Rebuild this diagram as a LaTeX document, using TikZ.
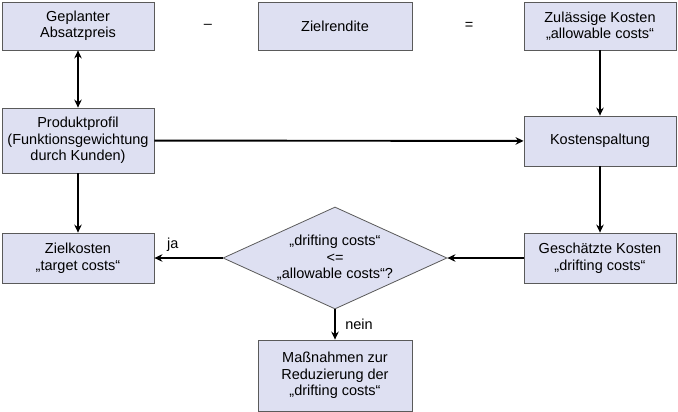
\documentclass[tikz,border=0pt]{standalone}
\usepackage{fontspec}
\setmainfont{Liberation Sans}
\usetikzlibrary{shapes.geometric,arrows.meta}
\definecolor{boxfill}{RGB}{222,224,242}
\definecolor{boxline}{RGB}{90,90,90}
\begin{document}
\begin{tikzpicture}[x=1pt,y=-1pt,
  font=\fontsize{14.5}{16.5}\selectfont,
  kasten/.style={draw=boxline, fill=boxfill, line width=0.8pt, align=center,
    minimum width=152pt, inner sep=0pt},
  raute/.style={diamond, draw=boxline, fill=boxfill, line width=0.8pt, align=center,
    aspect=2.2, inner sep=0pt, minimum width=224pt, minimum height=102pt},
  pfeil/.style={line width=1.9pt, -{Stealth[length=8pt,width=7.5pt]}}]
\useasboundingbox (0,0) rectangle (678,412);

% obere Zeile
\node[kasten, minimum height=48pt] (preis) at (78,26) {Geplanter\\Absatzpreis};
\node[kasten, minimum height=48pt, minimum width=154pt] (rendite) at (335,26) {Zielrendite};
\node[kasten, minimum height=48pt] (allow) at (600,26) {Zulässige Kosten\\„allowable costs“};
\node (minus) at (208,26) {–};
\node (gleich) at (469,26) {=};

% mittlere Zeile
\node[kasten, minimum height=65pt] (profil) at (78,140.5) {Produktprofil\\(Funktionsgewichtung\\durch Kunden)};
\node[kasten, minimum height=50pt] (spalt) at (600,141) {Kostenspaltung};

% untere Zeile
\node[kasten, minimum height=50pt] (ziel) at (78,258) {Zielkosten\\„target costs“};
\node[raute] (frage) at (335,258) {„drifting costs“\\<=\\„allowable costs“?};
\node[kasten, minimum height=50pt] (schaetz) at (600,258) {Geschätzte Kosten\\„drifting costs“};
\node[kasten, minimum height=71pt, minimum width=154pt] (mass) at (335,375.5) {Maßnahmen zur\\Reduzierung der\\„drifting costs“};

% Pfeile
\draw[pfeil, {Stealth[length=8pt,width=7.5pt]}-{Stealth[length=8pt,width=7.5pt]}] (preis) -- (profil);
\draw[pfeil] (profil) -- (ziel);
\draw[pfeil] (profil) -- (spalt);
\draw[pfeil] (allow) -- (spalt);
\draw[pfeil] (spalt) -- (schaetz);
\draw[pfeil] (schaetz) -- (frage);
\draw[pfeil] (frage) -- node[pos=0.73, above=2pt] (ja) {ja} (ziel);
\draw[pfeil] (frage) -- node[right=6pt] (nein) {nein} (mass);
\end{tikzpicture}
\end{document}
